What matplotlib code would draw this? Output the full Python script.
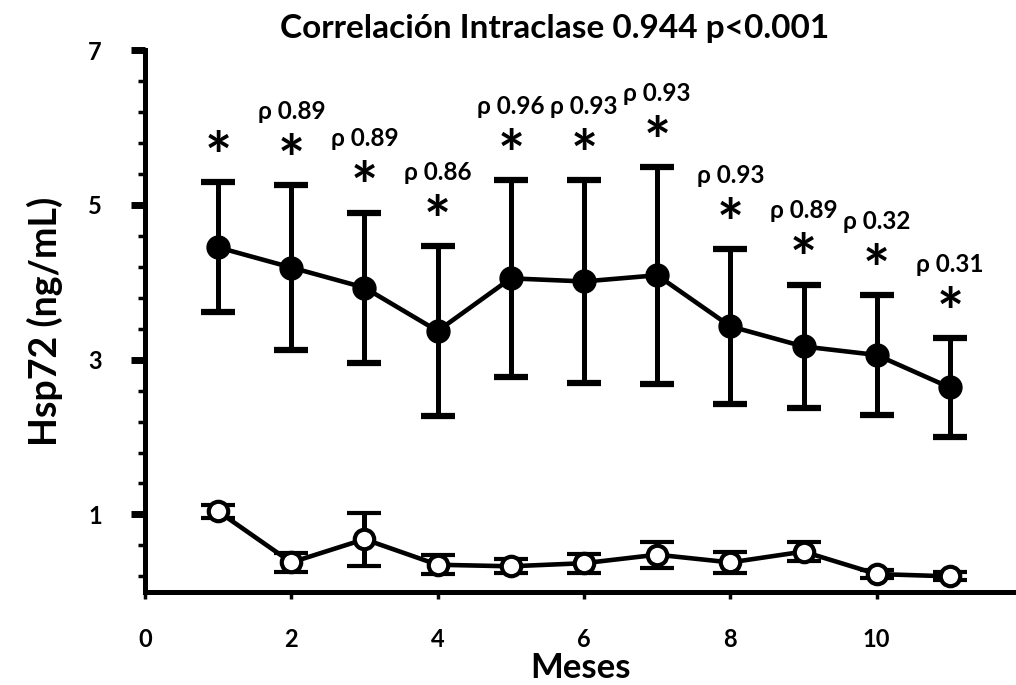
import numpy as np
import matplotlib.pyplot as plt

plt.rcParams['font.family'] = ['Lato', 'DejaVu Sans']
plt.rcParams['font.weight'] = 'bold'

# months
meses = [1, 2, 3, 4, 5, 6, 7, 8, 9, 10, 11]

# filled series (mean, sd)
hsp_a = [4.45, 4.19, 3.93, 3.37, 4.05, 4.01, 4.09, 3.43, 3.17, 3.06, 2.64]
sd_a = [0.84, 1.06, 0.97, 1.10, 1.27, 1.31, 1.40, 1.00, 0.80, 0.77, 0.64]

# open series (mean, sd)
hsp_b = [1.04, 0.38, 0.68, 0.35, 0.33, 0.37, 0.48, 0.38, 0.52, 0.23, 0.20]
sd_b = [0.085, 0.125, 0.34, 0.125, 0.09, 0.125, 0.17, 0.135, 0.125, 0.05, 0.05]

rho = [None, '0.89', '0.89', '0.86', '0.96', '0.93', '0.93', '0.93', '0.89', '0.32', '0.31']

fig = plt.figure(figsize=(10.16, 6.85), dpi=100)
ax = fig.add_axes([0.1427, 0.136, 0.857, 0.791])

eb = dict(color='black', lw=3.3, elinewidth=3.6, capsize=12.5, capthick=4.5)
ax.errorbar(meses, hsp_a, yerr=sd_a, marker='o', ms=16.5, mfc='black', mec='black', **eb)
ax.errorbar(meses, hsp_b, yerr=sd_b, marker='o', ms=14, mfc='white', mec='black', mew=3, **eb)

for x, m, s, r in zip(meses, hsp_a, sd_a, rho):
    ax.annotate('*', xy=(x, m + s), xytext=(0, -5), textcoords='offset points',
                ha='center', va='bottom', fontsize=46, fontweight='bold')
    if r is not None:
        ax.annotate('ρ ' + r, xy=(x, m + s), xytext=(0, 53), textcoords='offset points',
                    ha='center', va='center', fontsize=17.5, fontweight='bold')

ax.set_xlim(0, 11.9)
ax.set_ylim(0, 7)
ax.spines['top'].set_visible(False)
ax.spines['right'].set_visible(False)
ax.spines['left'].set_linewidth(3.6)
ax.spines['bottom'].set_linewidth(3.6)

ax.set_xticks([0, 2, 4, 6, 8, 10])
ax.tick_params(axis='x', length=5, width=2.5, pad=21, labelsize=17)
ax.set_yticks([1, 3, 5, 7])
ax.set_yticks(np.arange(0.2, 7, 0.4), minor=True)
ax.tick_params(axis='y', which='major', length=10, width=5, pad=21, labelsize=17)
ax.tick_params(axis='y', which='minor', length=5, width=2.5)

ax.set_xlabel('Meses', fontsize=25, fontweight='bold', labelpad=1)
ax.set_ylabel('Hsp72 (ng/mL)', fontsize=27, fontweight='bold', labelpad=18)
fig.text(0.546, 0.958, 'Correlación Intraclase 0.944 p<0.001', ha='center', va='center',
         fontsize=24, fontweight='bold')

fig.savefig('out.png', dpi=100)
